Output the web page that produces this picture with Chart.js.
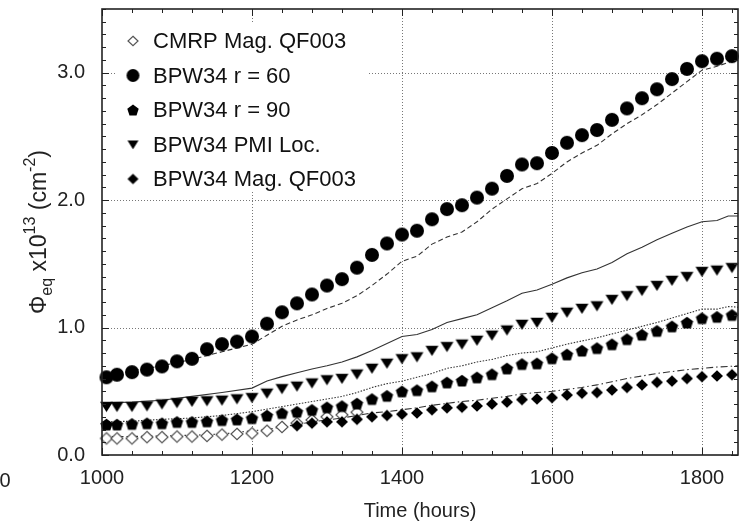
<!DOCTYPE html>
<html>
<head>
<meta charset="utf-8">
<script src="https://cdn.jsdelivr.net/npm/chart.js@4.4.1/dist/chart.umd.min.js"></script>
<style>
  html, body { margin: 0; padding: 0; background: #fff; }
  #wrap { width: 745px; height: 522px; }
</style>
</head>
<body>
<div id="wrap"><canvas id="fluenceChart" width="745" height="522"></canvas></div>
<script>
// measured points (hours), shared by the BPW34 series
const hours = [1006, 1020, 1040, 1060, 1080, 1100, 1120, 1140, 1160, 1180, 1200, 1220, 1240, 1260, 1280, 1300, 1320, 1340, 1360, 1380, 1400, 1420, 1440, 1460, 1480, 1500, 1520, 1540, 1560, 1580, 1600, 1620, 1640, 1660, 1680, 1700, 1720, 1740, 1760, 1780, 1800, 1820, 1840];
const bpwR60 = [0.61, 0.63, 0.65, 0.67, 0.695, 0.735, 0.755, 0.83, 0.87, 0.89, 0.93, 1.03, 1.12, 1.19, 1.26, 1.33, 1.38, 1.47, 1.57, 1.66, 1.73, 1.76, 1.85, 1.93, 1.96, 2.02, 2.09, 2.19, 2.28, 2.29, 2.37, 2.45, 2.51, 2.55, 2.63, 2.72, 2.80, 2.87, 2.95, 3.03, 3.09, 3.11, 3.13];
const bpwR90 = [0.24, 0.24, 0.245, 0.25, 0.25, 0.26, 0.26, 0.265, 0.275, 0.28, 0.29, 0.31, 0.33, 0.34, 0.355, 0.375, 0.385, 0.405, 0.44, 0.465, 0.50, 0.51, 0.54, 0.57, 0.585, 0.61, 0.635, 0.68, 0.715, 0.72, 0.76, 0.79, 0.82, 0.84, 0.87, 0.91, 0.945, 0.975, 1.01, 1.04, 1.075, 1.085, 1.10];
const bpwPmi = [0.38, 0.38, 0.38, 0.385, 0.40, 0.41, 0.42, 0.425, 0.43, 0.44, 0.45, 0.485, 0.52, 0.54, 0.565, 0.59, 0.60, 0.635, 0.68, 0.72, 0.755, 0.77, 0.82, 0.85, 0.87, 0.90, 0.94, 0.98, 1.025, 1.04, 1.08, 1.12, 1.15, 1.17, 1.22, 1.25, 1.29, 1.33, 1.37, 1.40, 1.44, 1.45, 1.47];

const cmrpHours = [1006, 1020, 1040, 1060, 1080, 1100, 1120, 1140, 1160, 1180, 1200, 1220, 1240, 1260, 1280, 1300, 1320, 1340];
const cmrpMag = [0.13, 0.13, 0.13, 0.14, 0.14, 0.145, 0.145, 0.15, 0.16, 0.165, 0.17, 0.19, 0.22, 0.25, 0.275, 0.30, 0.315, 0.335];

const bpwMagHours = [1260, 1280, 1300, 1320, 1340, 1360, 1380, 1400, 1420, 1440, 1460, 1480, 1500, 1520, 1540, 1560, 1580, 1600, 1620, 1640, 1660, 1680, 1700, 1720, 1740, 1760, 1780, 1800, 1820, 1840];
const bpwMag = [0.23, 0.25, 0.26, 0.26, 0.28, 0.30, 0.31, 0.32, 0.33, 0.355, 0.37, 0.375, 0.385, 0.40, 0.415, 0.435, 0.44, 0.45, 0.47, 0.485, 0.49, 0.51, 0.53, 0.55, 0.57, 0.58, 0.60, 0.615, 0.62, 0.63];

// calculated curves
const calcHours = [1000, 1040, 1080, 1120, 1160, 1200, 1220, 1240, 1260, 1280, 1300, 1320, 1340, 1360, 1380, 1400, 1420, 1440, 1460, 1480, 1500, 1520, 1540, 1560, 1580, 1600, 1620, 1640, 1660, 1680, 1700, 1720, 1740, 1760, 1780, 1800, 1820, 1835, 1848];
const calcR60 = [0.63, 0.66, 0.70, 0.75, 0.81, 0.87, 0.94, 1.01, 1.06, 1.10, 1.15, 1.19, 1.25, 1.33, 1.42, 1.52, 1.56, 1.655, 1.71, 1.75, 1.83, 1.93, 2.01, 2.09, 2.13, 2.21, 2.30, 2.37, 2.43, 2.52, 2.60, 2.67, 2.75, 2.84, 2.93, 3.02, 3.05, 3.08, 3.11];
const calcPmi = [0.41, 0.415, 0.43, 0.46, 0.49, 0.525, 0.58, 0.615, 0.645, 0.675, 0.70, 0.73, 0.77, 0.82, 0.875, 0.93, 0.945, 0.985, 1.04, 1.07, 1.10, 1.155, 1.21, 1.27, 1.295, 1.34, 1.39, 1.43, 1.46, 1.51, 1.58, 1.63, 1.69, 1.74, 1.79, 1.83, 1.84, 1.875, 1.875];
const calcR90 = [0.26, 0.265, 0.28, 0.29, 0.31, 0.34, 0.36, 0.38, 0.40, 0.42, 0.44, 0.46, 0.49, 0.53, 0.56, 0.58, 0.61, 0.64, 0.68, 0.70, 0.73, 0.75, 0.78, 0.80, 0.81, 0.84, 0.87, 0.895, 0.92, 0.95, 0.98, 1.01, 1.04, 1.075, 1.11, 1.145, 1.145, 1.165, 1.16];
const calcMag = [0.145, 0.145, 0.15, 0.155, 0.165, 0.19, 0.20, 0.22, 0.24, 0.26, 0.275, 0.29, 0.31, 0.33, 0.34, 0.355, 0.37, 0.39, 0.405, 0.42, 0.43, 0.445, 0.46, 0.48, 0.49, 0.50, 0.515, 0.53, 0.55, 0.575, 0.60, 0.62, 0.64, 0.655, 0.67, 0.68, 0.69, 0.695, 0.70];

const xTicks = [1000, 1200, 1400, 1600, 1800];
const yTicks = [0, 1, 2, 3];

const FONT = '"Liberation Sans", Arial, Helvetica, sans-serif';

// marker images (Chart.js has no pentagon, so all are drawn the same way)
function marker(kind, size) {
  const c = document.createElement("canvas");
  const s = size + 4;
  c.width = s; c.height = s;
  const g = c.getContext("2d");
  const m = s / 2, r = size / 2;
  g.beginPath();
  if (kind === "circle") {
    g.arc(m, m, r, 0, Math.PI * 2);
  } else if (kind === "pentagon") {
    for (let i = 0; i < 5; i++) {
      const a = -Math.PI / 2 + i * Math.PI * 2 / 5;
      g.lineTo(m + r * Math.cos(a), m + r * 0.1 + r * Math.sin(a));
    }
    g.closePath();
  } else if (kind === "triangle") {
    g.moveTo(m - r, m - r * 0.75);
    g.lineTo(m + r, m - r * 0.75);
    g.lineTo(m, m + r * 0.85);
    g.closePath();
  } else {
    g.moveTo(m, m - r * 0.95);
    g.lineTo(m + r, m);
    g.lineTo(m, m + r * 0.95);
    g.lineTo(m - r, m);
    g.closePath();
  }
  if (kind === "openDiamond") {
    g.fillStyle = "#fff";
    g.fill();
    g.lineWidth = 1.2;
    g.strokeStyle = "#555";
    g.stroke();
  } else {
    g.fillStyle = "#000";
    g.fill();
  }
  return c;
}

function pts(xs, ys) {
  return xs.map((x, i) => ({ x: x, y: ys[i] }));
}

const markerSeries = [
  { label: "CMRP Mag. QF003", data: pts(cmrpHours, cmrpMag), img: marker("openDiamond", 12), legendImg: marker("openDiamond", 10) },
  { label: "BPW34 r = 60", data: pts(hours, bpwR60), img: marker("circle", 14), legendImg: marker("circle", 13) },
  { label: "BPW34 r = 90", data: pts(hours, bpwR90), img: marker("pentagon", 13), legendImg: marker("pentagon", 12) },
  { label: "BPW34 PMI Loc.", data: pts(hours, bpwPmi), img: marker("triangle", 13), legendImg: marker("triangle", 11) },
  { label: "BPW34 Mag. QF003", data: pts(bpwMagHours, bpwMag), img: marker("diamond", 12), legendImg: marker("diamond", 11) }
];

const lineSeries = [
  { data: pts(calcHours, calcR60), dash: [5, 3] },
  { data: pts(calcHours, calcPmi), dash: [] },
  { data: pts(calcHours, calcR90), dash: [1.5, 1.5] },
  { data: pts(calcHours, calcMag), dash: [7, 3, 1.5, 3] }
];

const datasets = [];
// markers first so they end up on top of the curves
markerSeries.slice().reverse().forEach(s => {
  datasets.push({
    label: s.label,
    data: s.data,
    pointStyle: s.img,
    pointRadius: 6,
    showLine: false,
    clip: false
  });
});
lineSeries.forEach(s => {
  datasets.push({
    data: s.data,
    showLine: true,
    pointRadius: 0,
    borderColor: "#333",
    borderWidth: 1.1,
    borderDash: s.dash,
    tension: 0,
    clip: false
  });
});

// dotted grid under the data
const gridPlugin = {
  id: "dotGrid",
  beforeDatasetsDraw(chart) {
    const { ctx, chartArea: a, scales: { x, y } } = chart;
    ctx.save();
    ctx.strokeStyle = "#777";
    ctx.lineWidth = 1;
    ctx.setLineDash([1, 2]);
    xTicks.slice(1).forEach(v => {
      const px = Math.round(x.getPixelForValue(v)) + 0.5;
      ctx.beginPath(); ctx.moveTo(px, a.top); ctx.lineTo(px, a.bottom); ctx.stroke();
    });
    yTicks.slice(1).forEach(v => {
      const py = Math.round(y.getPixelForValue(v)) + 0.5;
      ctx.beginPath(); ctx.moveTo(a.left, py); ctx.lineTo(a.right, py); ctx.stroke();
    });
    ctx.restore();
  }
};

// legend box, frame, inward ticks, axis titles
const decorPlugin = {
  id: "decor",
  afterDatasetsDraw(chart) {
    const { ctx, chartArea: a, scales: { x, y } } = chart;
    ctx.save();

    // legend
    ctx.fillStyle = "#fff";
    ctx.fillRect(116, 24, 252, 168);
    ctx.font = "22px " + FONT;
    ctx.fillStyle = "#111";
    ctx.textBaseline = "middle";
    ctx.textAlign = "left";
    markerSeries.forEach((s, i) => {
      const cy = 41 + i * 34.5;
      const im = s.legendImg;
      ctx.drawImage(im, 133 - im.width / 2, cy - im.height / 2);
      ctx.fillText(s.label, 153, cy + 1);
    });

    // frame
    ctx.strokeStyle = "#222";
    ctx.lineWidth = 1.6;
    ctx.strokeRect(a.left, a.top, a.right - a.left, a.bottom - a.top);

    // ticks on all four sides
    ctx.lineWidth = 1;
    ctx.strokeStyle = "#222";
    for (let v = 1000; v <= 1848; v += 40) {
      const px = Math.round(x.getPixelForValue(v)) + 0.5;
      const len = (v - 1000) % 200 === 0 ? 7 : 4;
      ctx.beginPath();
      ctx.moveTo(px, a.bottom); ctx.lineTo(px, a.bottom - len);
      ctx.moveTo(px, a.top); ctx.lineTo(px, a.top + len);
      ctx.stroke();
    }
    for (let k = 0; k <= 35; k++) {
      const py = Math.round(y.getPixelForValue(k / 10)) + 0.5;
      const len = k % 10 === 0 ? 7 : 4;
      ctx.beginPath();
      ctx.moveTo(a.left, py); ctx.lineTo(a.left + len, py);
      ctx.moveTo(a.right, py); ctx.lineTo(a.right - len, py);
      ctx.stroke();
    }
    ctx.restore();
  },
  afterDraw(chart) {
    const { ctx, chartArea: a } = chart;
    ctx.save();
    ctx.fillStyle = "#222";
    ctx.textBaseline = "alphabetic";

    // x title
    ctx.font = "20px " + FONT;
    ctx.textAlign = "center";
    ctx.fillText("Time (hours)", (a.left + a.right) / 2, 517);
    ctx.fillText("0", 5, 487);

    // y title with sub/superscripts
    const parts = [
      { t: "\u03A6", size: 23, dy: 0 },
      { t: "eq", size: 16, dy: 6 },
      { t: " x10", size: 23, dy: 0 },
      { t: "13", size: 16, dy: -11 },
      { t: " (cm", size: 23, dy: 0 },
      { t: "-2", size: 16, dy: -11 },
      { t: ")", size: 23, dy: 0 }
    ];
    let total = 0;
    parts.forEach(p => { ctx.font = p.size + "px " + FONT; p.w = ctx.measureText(p.t).width; total += p.w; });
    ctx.translate(46, 232);
    ctx.rotate(-Math.PI / 2);
    ctx.textAlign = "left";
    let cx = -total / 2;
    parts.forEach(p => {
      ctx.font = p.size + "px " + FONT;
      ctx.fillText(p.t, cx, p.dy);
      cx += p.w;
    });
    ctx.restore();
  }
};

new Chart(document.getElementById("fluenceChart"), {
  type: "scatter",
  data: { datasets: datasets },
  options: {
    responsive: false,
    animation: false,
    layout: { padding: { top: 9, right: 2, left: 0, bottom: 0 } },
    plugins: { legend: { display: false }, tooltip: { enabled: false } },
    scales: {
      x: {
        type: "linear",
        min: 1000,
        max: 1848,
        grid: { display: false },
        border: { display: false },
        ticks: {
          stepSize: 200,
          includeBounds: false,
          padding: 3,
          color: "#222",
          font: { family: FONT, size: 20 },
          maxRotation: 0,
          callback: v => String(v)
        },
        afterFit(s) { s.height = 67; s.paddingLeft = 0; s.paddingRight = 0; }
      },
      y: {
        type: "linear",
        min: 0,
        max: 3.5,
        grid: { display: false },
        border: { display: false },
        ticks: {
          stepSize: 1,
          includeBounds: false,
          padding: 9,
          color: "#222",
          font: { family: FONT, size: 20 },
          callback: v => v.toFixed(1)
        },
        afterFit(s) { s.width = 102; s.paddingTop = 0; s.paddingBottom = 0; }
      }
    }
  },
  plugins: [gridPlugin, decorPlugin]
});
</script>
</body>
</html>
